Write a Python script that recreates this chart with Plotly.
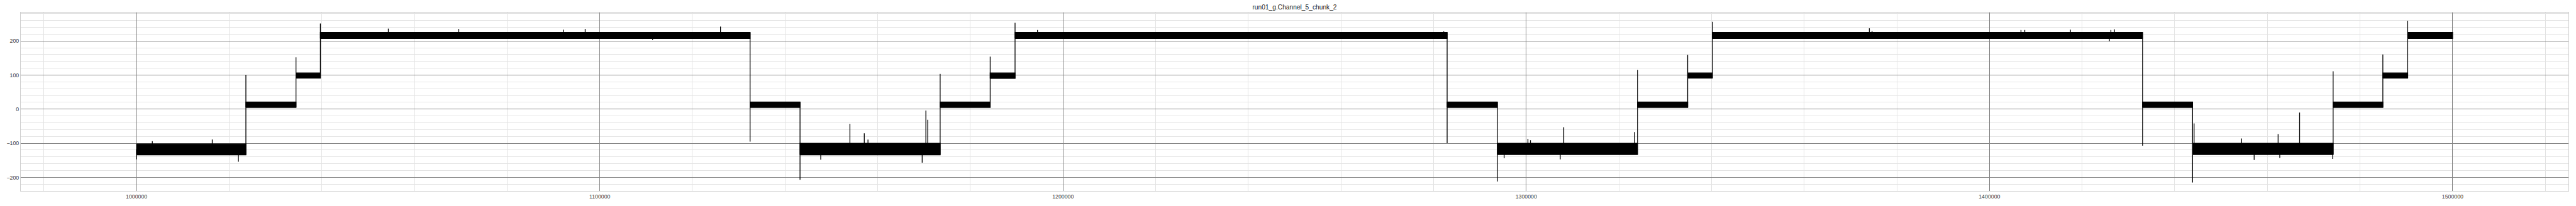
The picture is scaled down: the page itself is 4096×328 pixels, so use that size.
import plotly.graph_objects as go

# ---------------- data ----------------
title_text = "run01_g.Channel_5_chunk_2"

x_tick_vals = [1000000, 1100000, 1200000, 1300000, 1400000, 1500000]
x_tick_text = ["1000000", "1100000", "1200000", "1300000", "1400000", "1500000"]
y_tick_vals = [-200, -100, 0, 100, 200]
y_tick_text = ["\u2212200", "\u2212100", "0", "100", "200"]

# plateaus of the signal (start, end, lower edge of noise band, upper edge)
seg_start = [1000000, 1023600, 1034420, 1039680, 1132450, 1143230, 1173480, 1184280,
             1189650, 1282930, 1293770, 1324030, 1334860, 1340180, 1433060, 1443860,
             1474200, 1484930, 1490300]
seg_end = [1023600, 1034420, 1039680, 1132450, 1143230, 1173480, 1184280, 1189650,
           1282930, 1293770, 1324030, 1334860, 1340180, 1433060, 1443860, 1474200,
           1484930, 1490300, 1500000]
seg_lo = [-134, 5, 91, 207, 5, -134, 5, 90, 207, 5, -133, 5, 91, 207, 5, -133, 5, 91, 207]
seg_hi = [-102, 21, 106, 225, 21, -100, 21, 106, 225, 21, -100, 21, 106, 225, 21, -100, 21, 106, 225]

# overshoot value reached at each level change (transition i sits at seg_start[i+1])
trans_spike = [101, 152, 251, -95, -207, 103, 154, 253, -100, -212, 115, 159, 256,
               -107, -215, 111, 160, 259]

# isolated spikes inside plateaus
spike_x = [1000000, 1003400, 1016340, 1021990,
           1054350, 1069560, 1092160, 1096850, 1111400, 1126060,
           1147700, 1154000, 1157100, 1157900, 1169600, 1170400, 1170800,
           1194500, 1282200,
           1295240, 1300370, 1300920, 1307350, 1308100, 1323350,
           1374080, 1374660, 1406810, 1407630, 1417490, 1425900, 1426220, 1426980,
           1444180, 1454440, 1457150, 1462320, 1462680, 1466960, 1474100]
spike_y = [-147, -94, -89, -154,
           236, 235, 233, 235, 203, 242,
           -148, -43, -71, -89, -157, -4, -31,
           232, 228,
           -144, -87, -91, -147, -53, -67,
           237, 229, 232, 232, 233, 199, 232, 234,
           -42, -86, -149, -73, -143, -10, -146]

# ---------------- build figure ----------------
S = 0.758
LINE_W = 1.3

band_x, band_y = [], []
for x0, x1, lo, hi in zip(seg_start, seg_end, seg_lo, seg_hi):
    band_x += [x0, x0, x1, x1, x0, None]
    band_y += [lo, hi, hi, lo, lo, None]

vx, vy = [], []
for i, sp in enumerate(trans_spike):
    xt = seg_start[i + 1]
    ys = [seg_lo[i], seg_hi[i], seg_lo[i + 1], seg_hi[i + 1], sp]
    vx += [xt, xt, None]
    vy += [min(ys), max(ys), None]


def seg_index(x):
    for k, (a, b) in enumerate(zip(seg_start, seg_end)):
        if a <= x <= b:
            return k
    return len(seg_start) - 1


for xs, ys in zip(spike_x, spike_y):
    k = seg_index(xs)
    base = (seg_lo[k] + seg_hi[k]) / 2
    vx += [xs, xs, None]
    vy += [base, ys, None]

fig = go.Figure()
fig.add_trace(go.Scatter(x=band_x, y=band_y, mode="lines", fill="toself",
                         fillcolor="black", line=dict(color="black", width=LINE_W),
                         hoverinfo="skip", showlegend=False))
fig.add_trace(go.Scatter(x=vx, y=vy, mode="lines",
                         line=dict(color="black", width=LINE_W),
                         hoverinfo="skip", showlegend=False))

W, H = 4096, 328
font_family = "Liberation Sans Narrow, Liberation Sans, Arial, sans-serif"

axis_common = dict(
    showgrid=True, gridcolor="#858585", gridwidth=1,
    showline=True, mirror=True, linecolor="#cfcfcf", linewidth=1,
    zeroline=False, ticks="",
    tickfont=dict(family=font_family, size=11.6 * S, color="#3a3a3a"),
)

fig.update_layout(
    width=W, height=H,
    margin=dict(l=37.3 * S, r=W - 5389.3 * S, t=26.7 * S, b=H - 408.3 * S, pad=0),
    paper_bgcolor="white", plot_bgcolor="white",
    title=dict(text=title_text, x=0.5, xref="paper", xanchor="center",
               y=1 - 15.7 * S / H, yref="container", yanchor="middle",
               font=dict(family=font_family, size=13.5 * S, color="#222222")),
    xaxis=dict(range=[975000, 1525000], tickmode="array", tickvals=x_tick_vals,
               ticktext=x_tick_text,
               minor=dict(dtick=20000, tick0=1000000, showgrid=True,
                          gridcolor="#e3e3e3", gridwidth=1),
               **axis_common),
    yaxis=dict(range=[-239.7, 283.1], tickmode="array", tickvals=y_tick_vals,
               ticktext=y_tick_text,
               minor=dict(dtick=20, tick0=0, showgrid=True,
                          gridcolor="#e3e3e3", gridwidth=1),
               **axis_common),
)

fig.write_html("out.html", config={"displayModeBar": False},
               post_script="document.body.style.margin='0';document.body.style.overflow='hidden';")
